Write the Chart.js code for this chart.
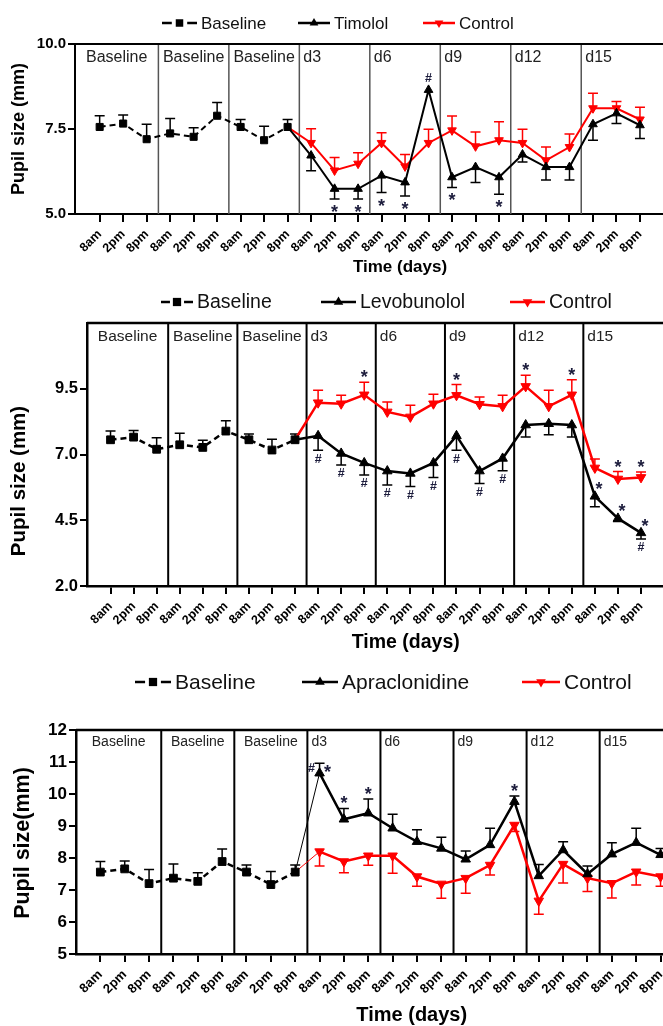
<!DOCTYPE html>
<html>
<head>
<meta charset="utf-8">
<title>Pupil size</title>
<script src="https://cdn.jsdelivr.net/npm/chart.js@4.4.1/dist/chart.umd.min.js"></script>
<style>
  html, body { margin: 0; padding: 0; background: #fff; }
  body { width: 663px; height: 1026px; overflow: hidden; position: relative; }
  canvas { position: absolute; left: 0; }
</style>
</head>
<body>
<canvas id="timololChart"></canvas>
<canvas id="levobunololChart"></canvas>
<canvas id="apraclonidineChart"></canvas>
<script>
const FONT = "'Liberation Sans', Arial, sans-serif";

// x categories: three readings per day
const timeLabels = ['8am', '2pm', '8pm', '8am', '2pm', '8pm', '8am', '2pm', '8pm',
                    '8am', '2pm', '8pm', '8am', '2pm', '8pm', '8am', '2pm', '8pm',
                    '8am', '2pm', '8pm', '8am', '2pm', '8pm'];
const groupLabels = ['Baseline', 'Baseline', 'Baseline', 'd3', 'd6', 'd9', 'd12', 'd15'];

// baseline (same three days in every panel)
const baseline = [7.56, 7.66, 7.20, 7.37, 7.27, 7.89, 7.56, 7.17, 7.56];
const baselineSd = [0.33, 0.25, 0.44, 0.44, 0.27, 0.39, 0.22, 0.41, 0.22];

// d3 .. d15 (8am, 2pm, 8pm)
const timolol = [6.72, 5.74, 5.74, 6.13, 5.93, 8.65, 6.08, 6.38, 6.08, 6.75, 6.38, 6.38, 7.64, 7.96, 7.61];
const timololSd = [0.45, 0.30, 0.30, 0.50, 0.40, 0, 0.30, 0.45, 0.50, 0.22, 0.38, 0.38, 0.47, 0.30, 0.39];
const control1 = [7.09, 6.28, 6.48, 7.09, 6.40, 7.09, 7.46, 6.99, 7.17, 7.09, 6.58, 6.97, 8.11, 8.11, 7.78];
const control1Sd = [0.42, 0.38, 0.32, 0.30, 0.35, 0.40, 0.42, 0.42, 0.54, 0.40, 0.39, 0.38, 0.44, 0.20, 0.36];

const levobunolol = [7.71, 7.04, 6.68, 6.37, 6.28, 6.68, 7.71, 6.37, 6.85, 8.12, 8.17, 8.12, 5.41, 4.57, 4.02];
const levobunololSd = [0.55, 0.44, 0.46, 0.53, 0.50, 0.55, 0.55, 0.47, 0.47, 0.45, 0.42, 0.45, 0.40, 0.12, 0.23];
const control2 = [8.97, 8.93, 9.27, 8.62, 8.43, 8.93, 9.25, 8.91, 8.83, 9.59, 8.83, 9.27, 6.49, 6.07, 6.13];
const control2Sd = [0.47, 0.32, 0.48, 0.38, 0.44, 0.36, 0.41, 0.28, 0.42, 0.42, 0.61, 0.57, 0.34, 0.28, 0.20];

const apraclonidine = [10.65, 9.21, 9.40, 8.93, 8.51, 8.30, 7.96, 8.41, 9.76, 7.44, 8.25, 7.50, 8.12, 8.48, 8.10];
const apraclonidineSd = [0.31, 0.34, 0.44, 0.44, 0.37, 0.35, 0.26, 0.52, 0.18, 0.36, 0.26, 0.25, 0.36, 0.45, 0.20];
const control3 = [8.20, 7.89, 8.07, 8.07, 7.42, 7.19, 7.37, 7.78, 9.03, 6.66, 7.81, 7.37, 7.21, 7.57, 7.42];
const control3Sd = [0.45, 0.35, 0.30, 0.55, 0.30, 0.45, 0.47, 0.31, 0.20, 0.42, 0.59, 0.42, 0.46, 0.41, 0.30];

// significance marks: [point index, symbol, side (1 above / -1 below), shift (-1 left, 1 right)]
const timololMarks = [[10, '*', -1, 0], [11, '*', -1, 0], [12, '*', -1, 0], [13, '*', -1, 0],
                      [14, '#', 1, 0], [15, '*', -1, 0], [17, '*', -1, 0]];
const levobunololMarks = [[9, '#', -1, 0], [10, '#', -1, 0], [11, '#', -1, 0], [12, '#', -1, 0],
                          [13, '#', -1, 0], [14, '#', -1, 0], [15, '#', -1, 0], [16, '#', -1, 0],
                          [17, '#', -1, 0], [23, '#', -1, 0],
                          [21, '*', 1, 0.5], [22, '*', 1, 0.5], [23, '*', 1, 0.5]];
const control2Marks = [[11, '*', 1, 0], [15, '*', 1, 0], [18, '*', 1, 0], [20, '*', 1, 0],
                       [22, '*', 1, 0], [23, '*', 1, 0]];
const apraclonidineMarks = [[9, '#', 1, -1], [9, '*', 1, 1], [10, '*', 1, 0], [11, '*', 1, 0], [17, '*', 1, 0]];

const yTicks1 = [5, 7.5, 10];
const yTicks2 = [2, 4.5, 7, 9.5];
const yTicks3 = [5, 6, 7, 8, 9, 10, 11, 12];

function baselineSeries() {
  return baseline.map((v, i) => ({ x: i, y: v }));
}
// treatment lines start from the last baseline reading
function treatSeries(vals) {
  return [{ x: 8, y: baseline[8] }].concat(vals.map((v, i) => ({ x: i + 9, y: v })));
}

function drawMarker(ctx, kind, cx, cy, r) {
  ctx.beginPath();
  if (kind === 'square') {
    const s = r * 0.75;
    ctx.rect(cx - s, cy - s, 2 * s, 2 * s);
  } else {
    const d = kind === 'down' ? -1 : 1;
    ctx.moveTo(cx, cy - d * r);
    ctx.lineTo(cx - 0.87 * r, cy + d * 0.5 * r);
    ctx.lineTo(cx + 0.87 * r, cy + d * 0.5 * r);
    ctx.closePath();
  }
  ctx.fill();
}

const decorPlugin = {
  id: 'decor',
  beforeDatasetsDraw(chart, args, o) {
    const { ctx, chartArea: a, scales: { x, y } } = chart;
    ctx.save();
    ctx.strokeStyle = o.sepColor;
    ctx.lineWidth = o.sepWidth;
    ctx.fillStyle = '#222';
    ctx.font = `${o.groupSize}px ${FONT}`;
    ctx.textBaseline = 'middle';
    groupLabels.forEach((g, k) => {
      const x0 = k === 0 ? a.left : x.getPixelForValue(k * 3 - 0.5);
      const x1 = x.getPixelForValue(k * 3 + 2.5);
      if (k > 0) {
        ctx.beginPath(); ctx.moveTo(x0, a.top); ctx.lineTo(x0, a.bottom); ctx.stroke();
      }
      if (k < 3) {
        ctx.textAlign = 'center';
        ctx.fillText(g, (x0 + x1) / 2, a.top + o.groupDy);
      } else {
        ctx.textAlign = 'left';
        ctx.fillText(g, x0 + 4, a.top + o.groupDy);
      }
    });
    // top edge of the frame
    ctx.strokeStyle = '#000';
    ctx.lineWidth = o.frameWidth;
    ctx.beginPath(); ctx.moveTo(a.left, a.top); ctx.lineTo(a.right, a.top); ctx.stroke();
    // error bars (one-sided)
    chart.data.datasets.forEach(ds => {
      ctx.strokeStyle = ds.borderColor;
      ctx.lineWidth = o.errWidth;
      ds.data.forEach((p, i) => {
        const e = ds.err[i];
        if (!e) return;
        const px = x.getPixelForValue(p.x), py = y.getPixelForValue(p.y);
        const ey = y.getPixelForValue(p.y + ds.errDir * e);
        ctx.beginPath();
        ctx.moveTo(px, py); ctx.lineTo(px, ey);
        ctx.moveTo(px - o.cap, ey); ctx.lineTo(px + o.cap, ey);
        ctx.stroke();
      });
    });
    ctx.restore();
  },
  afterDatasetsDraw(chart, args, o) {
    const { ctx, scales: { x, y } } = chart;
    ctx.save();
    ctx.fillStyle = '#1c1c3c';
    ctx.textAlign = 'center';
    ctx.textBaseline = 'middle';
    chart.data.datasets.forEach(ds => {
      ds.marks.forEach(([idx, sym, side, shift]) => {
        const i = ds.data.findIndex(q => q.x === idx);
        const p = ds.data[i];
        const e = ds.err[i] || 0;
        const px = x.getPixelForValue(p.x) + shift * o.markDx;
        let my;
        if (side === ds.errDir && e) {
          const ey = y.getPixelForValue(p.y + side * e);
          my = shift ? ey + side * 5 : ey - side * o.markGap;
        } else {
          my = y.getPixelForValue(p.y) - side * o.markGap2;
        }
        const size = sym === '*' ? o.starSize : o.hashSize;
        ctx.font = `bold ${size}px ${FONT}`;
        ctx.fillText(sym, px, my + (sym === '*' ? size * 0.28 : 0));
      });
    });
    ctx.restore();
  },
  afterDraw(chart, args, o) {
    const { ctx } = chart;
    const lg = o.legend;
    ctx.save();
    // rotated y title
    ctx.fillStyle = '#000';
    ctx.font = `bold ${o.yTitle.size}px ${FONT}`;
    ctx.textAlign = 'center';
    ctx.textBaseline = 'middle';
    ctx.translate(o.yTitle.x, o.yTitle.y);
    ctx.rotate(-Math.PI / 2);
    ctx.fillText(o.yTitle.text, 0, 0);
    ctx.setTransform(1, 0, 0, 1, 0, 0);
    // legend
    ctx.font = `${lg.size}px ${FONT}`;
    ctx.textAlign = 'left';
    chart.data.datasets.forEach((ds, i) => {
      const it = lg.items[i];
      ctx.strokeStyle = ds.borderColor;
      ctx.fillStyle = ds.borderColor;
      ctx.lineWidth = 2.5;
      ctx.beginPath();
      if (ds.borderDash.length) {
        ctx.moveTo(it.x, lg.y); ctx.lineTo(it.x + it.w * 0.28, lg.y);
        ctx.moveTo(it.x + it.w * 0.72, lg.y); ctx.lineTo(it.x + it.w, lg.y);
      } else {
        ctx.moveTo(it.x, lg.y); ctx.lineTo(it.x + it.w, lg.y);
      }
      ctx.stroke();
      drawMarker(ctx, ds.marker, it.x + it.w / 2, lg.y, lg.r);
      ctx.fillStyle = '#111';
      ctx.fillText(ds.label, it.x + it.w + 4, lg.y + 1);
    });
    ctx.restore();
  }
};

function buildPanel(id, L, spec) {
  const canvas = document.getElementById(id);
  canvas.width = L.width;
  canvas.height = L.height;
  canvas.style.top = L.top + 'px';
  canvas.style.width = L.width + 'px';
  canvas.style.height = L.height + 'px';

  const datasets = spec.series.map(s => ({
    label: s.label,
    data: s.data,
    borderColor: s.color,
    backgroundColor: s.color,
    pointBackgroundColor: s.color,
    pointBorderColor: s.color,
    borderWidth: L.lineWidth,
    borderDash: s.dashed ? [6, 4] : [],
    pointStyle: s.marker === 'square' ? 'rect' : 'triangle',
    pointRotation: s.marker === 'down' ? 180 : 0,
    pointRadius: ctx => (s.hideFirst && ctx.dataIndex === 0) ? 0 : L.pointRadius,
    pointBorderWidth: 1,
    tension: 0,
    fill: false,
    segment: s.thinFirst ? { borderWidth: ctx => ctx.p0DataIndex === 0 ? 1 : L.lineWidth } : {},
    err: s.err,
    errDir: s.errDir,
    marks: s.marks || [],
    marker: s.marker
  }));

  return new Chart(canvas.getContext('2d'), {
    type: 'line',
    data: { datasets },
    plugins: [decorPlugin],
    options: {
      responsive: false,
      animation: false,
      devicePixelRatio: 1,
      events: [],
      layout: { padding: { top: L.chartTop - L.top, left: 0, right: 0, bottom: 0 } },
      scales: {
        x: {
          type: 'linear',
          min: L.xMin,
          max: L.xMax,
          afterBuildTicks: sc => { sc.ticks = timeLabels.map((t, i) => ({ value: i })); },
          afterFit: sc => { sc.height = L.top + L.height - L.chartBottom; },
          ticks: {
            autoSkip: false, minRotation: 45, maxRotation: 45, padding: 5, color: '#000',
            font: { family: FONT, size: L.xTickSize, weight: 'bold' },
            callback: v => timeLabels[v]
          },
          grid: { drawOnChartArea: false, drawTicks: true, tickLength: 8, color: '#000', lineWidth: 2 },
          border: { color: '#000', width: L.axisWidth },
          title: {
            display: true, text: 'Time (days)', color: '#000',
            font: { family: FONT, size: L.xTitleSize, weight: 'bold', lineHeight: 1 },
            padding: { top: 0, bottom: L.top + L.height - L.xTitleY - L.xTitleSize / 2 }
          }
        },
        y: {
          min: spec.yMin,
          max: spec.yMax,
          afterBuildTicks: sc => { sc.ticks = spec.yTicks.map(v => ({ value: v })); },
          afterFit: sc => { sc.width = L.left; },
          ticks: {
            padding: 2, color: '#000',
            font: { family: FONT, size: L.yTickSize, weight: 'bold' },
            callback: spec.yFormat
          },
          grid: { drawOnChartArea: false, drawTicks: true, tickLength: 7, color: '#000', lineWidth: 2 },
          border: { color: '#000', width: L.axisWidth },
          title: { display: false }
        }
      },
      plugins: {
        legend: { display: false },
        tooltip: { enabled: false },
        decor: {
          sepColor: L.sepColor, sepWidth: L.sepWidth, frameWidth: L.axisWidth,
          groupSize: L.groupSize, groupDy: L.groupDy,
          errWidth: 1.5, cap: 5,
          markGap: 9, markGap2: 11, markDx: 8, starSize: 18, hashSize: 12.5,
          yTitle: { text: spec.yTitle, size: L.yTitleSize, x: L.yTitleX, y: L.yTitleY - L.top },
          legend: { y: L.legendY - L.top, size: L.legendSize, r: L.pointRadius, items: L.legendItems }
        }
      }
    }
  });
}

// panel 1: timolol
buildPanel('timololChart', {
  top: 0, height: 280, width: 731, chartTop: 44, chartBottom: 214, left: 75,
  xMin: -1.05, xMax: 26.62, xTitleY: 267, yTitleX: 19, yTitleY: 129, legendY: 23,
  lineWidth: 2, pointRadius: 5, axisWidth: 2, sepColor: '#555', sepWidth: 1.5,
  groupSize: 16, groupDy: 14, xTickSize: 12.5, xTitleSize: 17, yTickSize: 15, yTitleSize: 18,
  legendSize: 17,
  legendItems: [{ x: 162, w: 35 }, { x: 298, w: 32 }, { x: 423, w: 32 }]
}, {
  yMin: 5, yMax: 10, yTicks: yTicks1, yFormat: v => v.toFixed(1), yTitle: 'Pupil size (mm)',
  series: [
    { label: 'Baseline', data: baselineSeries(), color: '#000', dashed: true, marker: 'square', err: baselineSd, errDir: 1 },
    { label: 'Timolol', data: treatSeries(timolol), color: '#000', marker: 'up', hideFirst: true,
      err: [0].concat(timololSd), errDir: -1, marks: timololMarks },
    { label: 'Control', data: treatSeries(control1), color: '#ff0000', marker: 'down', hideFirst: true,
      err: [0].concat(control1Sd), errDir: 1 }
  ]
});

// panel 2: levobunolol
buildPanel('levobunololChart', {
  top: 280, height: 378, width: 731, chartTop: 323, chartBottom: 586, left: 87,
  xMin: -1.02, xMax: 26.62, xTitleY: 643, yTitleX: 19, yTitleY: 481, legendY: 302,
  lineWidth: 2.5, pointRadius: 5.5, axisWidth: 2.5, sepColor: '#000', sepWidth: 2,
  groupSize: 15.5, groupDy: 14, xTickSize: 12.5, xTitleSize: 19.5, yTickSize: 16.5, yTitleSize: 20.5,
  legendSize: 19.5,
  legendItems: [{ x: 161, w: 32 }, { x: 321, w: 35 }, { x: 510, w: 35 }]
}, {
  yMin: 2, yMax: 12, yTicks: yTicks2, yFormat: v => v.toFixed(1), yTitle: 'Pupil size (mm)',
  series: [
    { label: 'Baseline', data: baselineSeries(), color: '#000', dashed: true, marker: 'square', err: baselineSd, errDir: 1 },
    { label: 'Levobunolol', data: treatSeries(levobunolol), color: '#000', marker: 'up', hideFirst: true,
      err: [0].concat(levobunololSd), errDir: -1, marks: levobunololMarks },
    { label: 'Control', data: treatSeries(control2), color: '#ff0000', marker: 'down', hideFirst: true,
      err: [0].concat(control2Sd), errDir: 1, marks: control2Marks }
  ]
});

// panel 3: apraclonidine
buildPanel('apraclonidineChart', {
  top: 658, height: 368, width: 754, chartTop: 730, chartBottom: 954, left: 76,
  xMin: -1.0, xMax: 26.57, xTitleY: 1015, yTitleX: 23, yTitleY: 843, legendY: 682,
  lineWidth: 2.5, pointRadius: 5.5, axisWidth: 2.5, sepColor: '#000', sepWidth: 2,
  groupSize: 14, groupDy: 12, xTickSize: 13, xTitleSize: 20, yTickSize: 17, yTitleSize: 21.5,
  legendSize: 21,
  legendItems: [{ x: 135, w: 36 }, { x: 302, w: 36 }, { x: 522, w: 38 }]
}, {
  yMin: 5, yMax: 12, yTicks: yTicks3, yFormat: v => String(v), yTitle: 'Pupil size(mm)',
  series: [
    { label: 'Baseline', data: baselineSeries(), color: '#000', dashed: true, marker: 'square', err: baselineSd, errDir: 1 },
    { label: 'Apraclonidine', data: treatSeries(apraclonidine), color: '#000', marker: 'up', hideFirst: true,
      thinFirst: true, err: [0].concat(apraclonidineSd), errDir: 1, marks: apraclonidineMarks },
    { label: 'Control', data: treatSeries(control3), color: '#ff0000', marker: 'down', hideFirst: true,
      thinFirst: true, err: [0].concat(control3Sd), errDir: -1 }
  ]
});
</script>
</body>
</html>
